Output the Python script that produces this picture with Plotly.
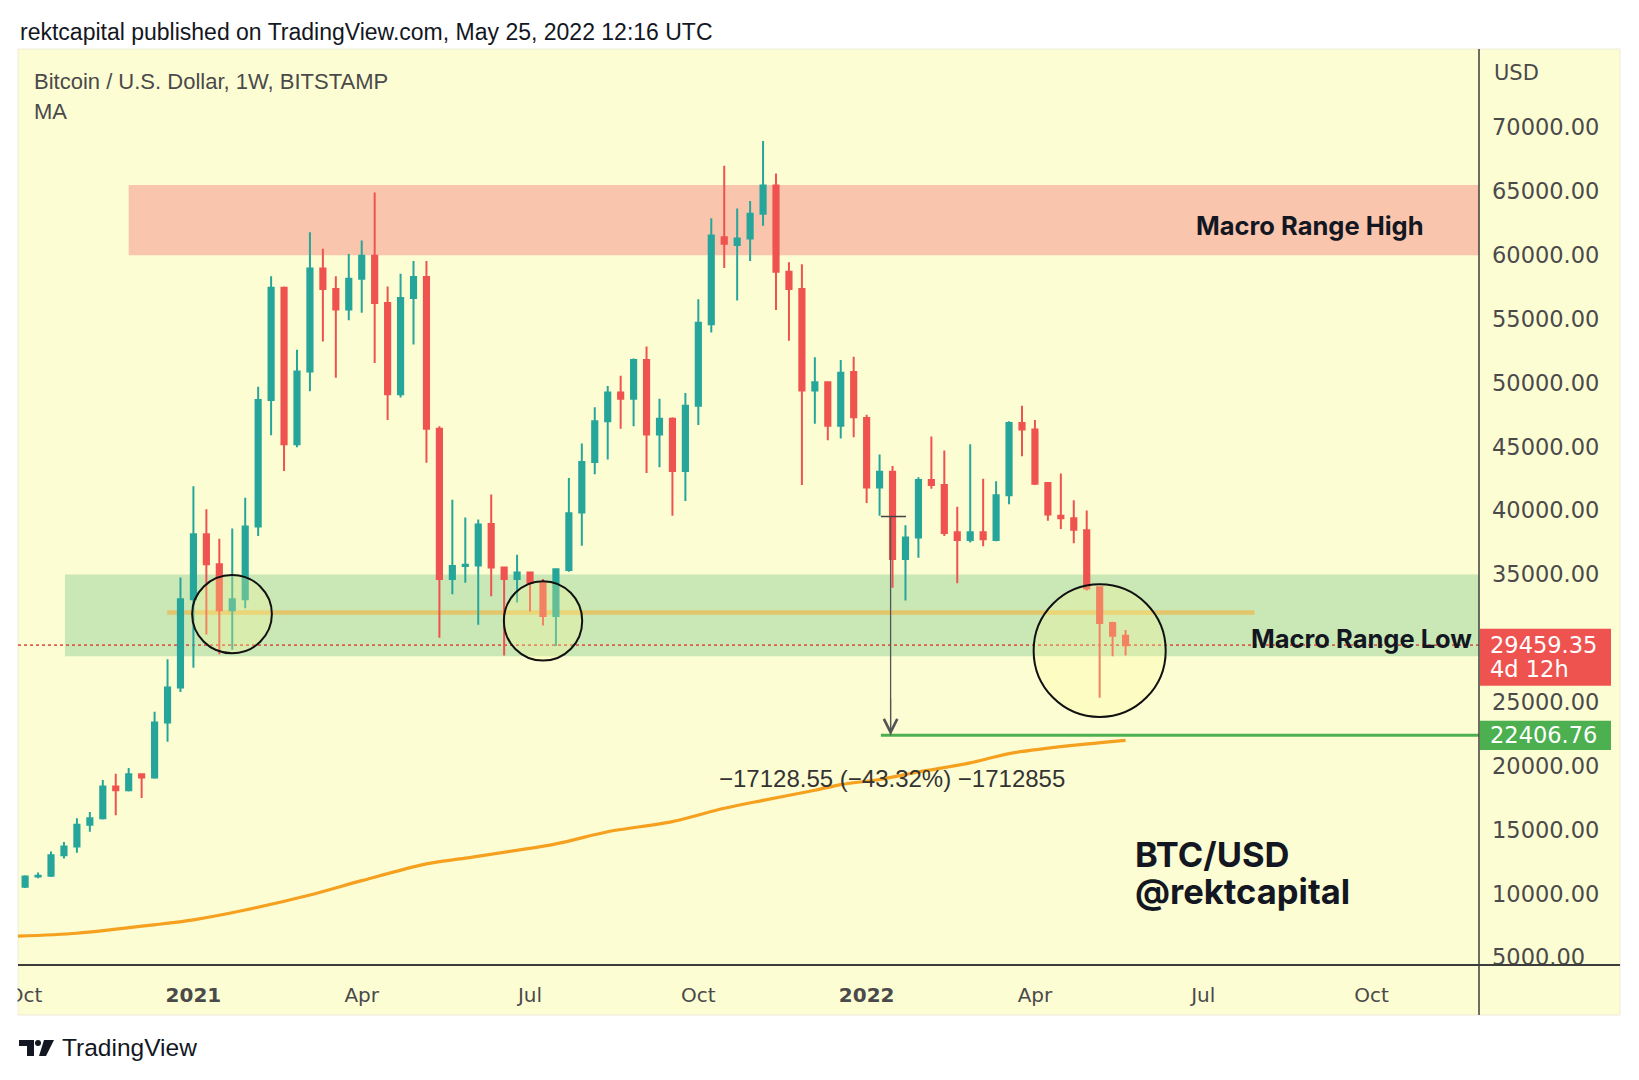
import plotly.graph_objects as go
import pandas as pd

# ---------------- data ----------------
dates = [
    "2020-10-05", "2020-10-12", "2020-10-19", "2020-10-26", "2020-11-02", "2020-11-09",
    "2020-11-16", "2020-11-23", "2020-11-30", "2020-12-07", "2020-12-14", "2020-12-21",
    "2020-12-28", "2021-01-04", "2021-01-11", "2021-01-18", "2021-01-25", "2021-02-01",
    "2021-02-08", "2021-02-15", "2021-02-22", "2021-03-01", "2021-03-08", "2021-03-15",
    "2021-03-22", "2021-03-29", "2021-04-05", "2021-04-12", "2021-04-19", "2021-04-26",
    "2021-05-03", "2021-05-10", "2021-05-17", "2021-05-24", "2021-05-31", "2021-06-07",
    "2021-06-14", "2021-06-21", "2021-06-28", "2021-07-05", "2021-07-12", "2021-07-19",
    "2021-07-26", "2021-08-02", "2021-08-09", "2021-08-16", "2021-08-23", "2021-08-30",
    "2021-09-06", "2021-09-13", "2021-09-20", "2021-09-27", "2021-10-04", "2021-10-11",
    "2021-10-18", "2021-10-25", "2021-11-01", "2021-11-08", "2021-11-15", "2021-11-22",
    "2021-11-29", "2021-12-06", "2021-12-13", "2021-12-20", "2021-12-27", "2022-01-03",
    "2022-01-10", "2022-01-17", "2022-01-24", "2022-01-31", "2022-02-07", "2022-02-14",
    "2022-02-21", "2022-02-28", "2022-03-07", "2022-03-14", "2022-03-21", "2022-03-28",
    "2022-04-04", "2022-04-11", "2022-04-18", "2022-04-25", "2022-05-02", "2022-05-09",
    "2022-05-16", "2022-05-23",
]
opens = [
    10550, 11350, 11400, 13000, 13700, 15400, 15900, 18400, 18100, 19350, 19100, 23400,
    26150, 33050, 38150, 35800, 32200, 33050, 38750, 48650, 57450, 45200, 50900, 58950,
    57350, 55750, 58150, 59950, 56250, 49100, 56650, 58300, 46400, 34650, 35650, 35700,
    38950, 35550, 34650, 35150, 34300, 31750, 35350, 39850, 43800, 47000, 49250, 48750,
    51800, 45950, 47200, 43100, 48200, 54600, 61400, 60800, 61300, 63250, 65450, 58700,
    57350, 49400, 50050, 46650, 50850, 47250, 41800, 43050, 36200, 37900, 42400, 42000,
    38300, 37700, 38300, 37700, 41200, 46850, 46350, 42150, 39600, 39400, 38450, 34000,
    31200, 30200,
]
highs = [
    11450, 11650, 13300, 14050, 15900, 16400, 18900, 19400, 19850, 19400, 24250, 28350,
    34750, 41900, 40100, 37800, 38600, 41000, 49700, 58350, 57550, 52600, 61800, 60500,
    58350, 60100, 61150, 64900, 57550, 58550, 59550, 59550, 46600, 40850, 39450, 39300,
    41250, 35600, 36550, 35200, 34650, 35400, 42550, 45250, 48100, 49750, 50550, 51900,
    52850, 48750, 47300, 49200, 56550, 62900, 67000, 63650, 64250, 68950, 66400, 59450,
    59300, 52000, 50100, 51800, 52050, 47500, 44400, 43500, 38850, 42600, 45800, 44700,
    40300, 45200, 42500, 42300, 47000, 48200, 47100, 42200, 42900, 40800, 40000, 34050,
    31300, 30650,
]
lows = [
    10450, 11200, 11300, 12750, 13200, 14850, 15800, 16150, 18000, 17500, 19000, 21900,
    25800, 27700, 30300, 28750, 29100, 32350, 38000, 45900, 43100, 44950, 49350, 53250,
    50400, 54900, 55500, 51550, 47100, 48850, 53000, 43750, 30050, 33450, 34350, 31050,
    33300, 28650, 32800, 32100, 31000, 29400, 35200, 37250, 42850, 44000, 46400, 46600,
    42950, 43400, 39600, 40750, 46700, 53950, 59000, 56450, 59550, 62300, 55700, 53300,
    42000, 46800, 45500, 45650, 45750, 40600, 39600, 33950, 32950, 36300, 41700, 38000,
    34300, 37500, 37200, 37600, 40500, 44250, 42000, 39200, 38550, 37450, 33750, 25350,
    28600, 28650,
]
closes = [
    11350, 11400, 13000, 13700, 15400, 15900, 18400, 18100, 19350, 19100, 23400, 26150,
    33050, 38150, 35800, 32200, 33050, 38750, 48650, 57450, 45200, 50900, 58950, 57350,
    55750, 58150, 59950, 56250, 49100, 56650, 58300, 46400, 34650, 35650, 35750, 38900,
    35550, 34650, 35150, 34350, 31750, 35400, 39800, 43800, 47000, 49250, 48750, 51800,
    45950, 47200, 43100, 48200, 54700, 61550, 60900, 61300, 63250, 65450, 58700, 57350,
    49400, 50050, 46650, 50800, 47300, 41800, 43050, 36200, 37900, 42400, 42000, 38250,
    37700, 38300, 37750, 41200, 46850, 46350, 42100, 39700, 39400, 38500, 33900, 31200,
    30200, 29459.35,
]

# 200-week moving average
ma_dates = [
    "2020-09-28", "2020-11-02", "2020-12-14", "2021-01-04", "2021-02-01", "2021-03-08",
    "2021-04-05", "2021-05-10", "2021-05-31", "2021-07-19", "2021-08-16", "2021-09-20",
    "2021-10-18", "2021-11-08", "2021-12-06", "2021-12-20", "2022-01-10", "2022-01-31",
    "2022-02-28", "2022-03-21", "2022-04-25", "2022-05-23",
]
ma_values = [
    6650, 6900, 7560, 7950, 8720, 9900, 11020, 12330, 12780, 13900, 14850, 15640,
    16690, 17310, 18100, 18540, 18940, 19530, 20240, 20970, 21620, 22010,
]

last_price = 29459.35
target_price = 22406.76
measure_top = 39535.31
macro_high = [60000, 65500]
macro_low = [28600, 35000]
mid_level = 32019

ytick_vals = [5000, 10000, 15000, 20000, 25000, 35000, 40000, 45000,
              50000, 55000, 60000, 65000, 70000]
ytick_text = ["5000.00", "10000.00", "15000.00", "20000.00", "25000.00", "35000.00",
              "40000.00", "45000.00", "50000.00", "55000.00", "60000.00",
              "65000.00", "70000.00"]
xtick_dates = ["2020-10-05", "2021-01-04", "2021-04-05", "2021-07-05", "2021-10-04",
               "2022-01-03", "2022-04-04", "2022-07-04", "2022-10-03"]
xtick_text = ["Oct", "<b>2021</b>", "Apr", "Jul", "Oct", "<b>2022</b>", "Apr", "Jul", "Oct"]

# ---------------- layout helpers ----------------
PAGE_OFF = 8                       # browser body margin
W, H = 1639 - PAGE_OFF, 1080 - PAGE_OFF
L, R, T, B = 18, 1479, 49, 965     # plot area in page pixels


def px(x):
    return (x - L) / (R - L)


def py(y):
    return (B - y) / (B - T)


base = pd.Timestamp("2020-10-05")


def wk(i):
    return base + pd.Timedelta(days=7 * i)


x_start, x_end = wk(-0.55), wk(112.3)
BG = "#FDFDD4"
TEAL, RED = "#26A69A", "#EF5350"
TXT = "#131722"

fig = go.Figure()
fig.add_trace(go.Candlestick(
    x=dates, open=opens, high=highs, low=lows, close=closes,
    increasing=dict(line=dict(color=TEAL, width=2), fillcolor=TEAL),
    decreasing=dict(line=dict(color=RED, width=2), fillcolor=RED),
    whiskerwidth=0, showlegend=False, hoverinfo="skip",
))
fig.add_trace(go.Scatter(
    x=ma_dates, y=ma_values, mode="lines",
    line=dict(color="#F5A01E", width=3.2, shape="spline", smoothing=0.8),
    showlegend=False, hoverinfo="skip",
))

shapes = []
# whole chart box (pale yellow)
shapes.append(dict(type="rect", xref="paper", yref="paper", x0=0, x1=px(1620),
                   y0=py(1015), y1=1, fillcolor=BG, line=dict(color="#ECECD8", width=1),
                   layer="below"))
# macro range high
shapes.append(dict(type="rect", xref="x", yref="y", x0=wk(8.0), x1=x_end,
                   y0=macro_high[0], y1=macro_high[1], fillcolor="#F9C5AD",
                   line=dict(width=0), layer="below"))
# macro range low
shapes.append(dict(type="rect", xref="x", yref="y", x0=wk(3.07), x1=x_end,
                   y0=macro_low[0], y1=macro_low[1], fillcolor="#CAE7B6",
                   line=dict(width=0), layer="below"))
# golden mid level
shapes.append(dict(type="line", xref="x", yref="y", x0=wk(10.97), x1=wk(94.96),
                   y0=mid_level, y1=mid_level,
                   line=dict(color="rgba(228,194,100,0.9)", width=4.5), layer="below"))
# dotted last price line
shapes.append(dict(type="line", xref="x", yref="y", x0=x_start, x1=x_end,
                   y0=last_price, y1=last_price,
                   line=dict(color="#D9604F", width=1.6, dash="dot"), layer="below"))
# green target level
shapes.append(dict(type="line", xref="x", yref="y", x0=wk(66.1), x1=x_end,
                   y0=target_price, y1=target_price,
                   line=dict(color="#4CAF50", width=3), layer="above"))
# measure top tick
shapes.append(dict(type="line", xref="x", yref="y", x0=wk(66.1), x1=wk(68.04),
                   y0=measure_top, y1=measure_top,
                   line=dict(color="#444444", width=1.5), layer="above"))
# measure vertical line
shapes.append(dict(type="line", xref="x", yref="y", x0=wk(66.85), x1=wk(66.85),
                   y0=measure_top, y1=target_price,
                   line=dict(color="#555555", width=1.3), layer="above"))
# circles
for (i0, i1, y0, y1) in [(12.9, 19.06, 28826, 34956), (36.98, 43.03, 28252, 34471),
                         (77.9, 88.1, 23836, 34229)]:
    shapes.append(dict(type="circle", xref="x", yref="y", x0=wk(i0), x1=wk(i1),
                       y0=y0, y1=y1, fillcolor="rgba(255,255,150,0.28)",
                       line=dict(color="#111111", width=2), layer="above"))
# axis frame lines
shapes.append(dict(type="line", xref="paper", yref="paper", x0=1, x1=1, y0=py(1015), y1=1,
                   line=dict(color="#3C3C3C", width=1.5), layer="above"))
shapes.append(dict(type="line", xref="paper", yref="paper", x0=0, x1=px(1620), y0=0, y1=0,
                   line=dict(color="#3C3C3C", width=1.8), layer="above"))
# clip the first time label at the chart's left edge (as in the screenshot)
shapes.append(dict(type="rect", xref="paper", yref="paper", x0=px(0), x1=px(17.5),
                   y0=py(1014), y1=py(967), fillcolor="white", line=dict(width=0),
                   layer="above"))
# price tags on axis
shapes.append(dict(type="rect", xref="paper", yref="y", x0=px(1480), x1=px(1611),
                   ysizemode="pixel", yanchor=last_price, y0=-40.5, y1=16.5,
                   fillcolor="#EF5350", line=dict(width=0), layer="above"))
shapes.append(dict(type="rect", xref="paper", yref="y", x0=px(1480), x1=px(1611),
                   ysizemode="pixel", yanchor=target_price, y0=-14.7, y1=14.5,
                   fillcolor="#4CAF50", line=dict(width=0), layer="above"))
# TradingView logo (simple glyph)
shapes.append(dict(type="path", xref="paper", yref="paper",
                   path=f"M {px(19)} {py(1040)} L {px(34)} {py(1040)} L {px(34)} {py(1056)} "
                        f"L {px(27)} {py(1056)} L {px(27)} {py(1046)} L {px(19)} {py(1046)} Z",
                   fillcolor=TXT, line=dict(width=0)))
shapes.append(dict(type="circle", xref="paper", yref="paper", x0=px(35), x1=px(41),
                   y0=py(1046), y1=py(1040), fillcolor=TXT, line=dict(width=0)))
shapes.append(dict(type="path", xref="paper", yref="paper",
                   path=f"M {px(44)} {py(1040)} L {px(54)} {py(1040)} L {px(46)} {py(1056)} "
                        f"L {px(39)} {py(1056)} Z",
                   fillcolor=TXT, line=dict(width=0)))

ann = []
ann.append(dict(text="rektcapital published on TradingView.com, May 25, 2022 12:16 UTC",
                xref="paper", yref="paper", x=px(18), y=py(32), xanchor="left",
                yanchor="middle", showarrow=False,
                font=dict(family="Liberation Sans, Arial", size=23, color=TXT)))
ann.append(dict(text="Bitcoin / U.S. Dollar, 1W, BITSTAMP", xref="paper", yref="paper",
                x=px(32), y=py(81.5), xanchor="left", yanchor="middle", showarrow=False,
                font=dict(family="Liberation Sans, Arial", size=22, color="#4A4A4A")))
ann.append(dict(text="MA", xref="paper", yref="paper", x=px(32), y=py(112),
                xanchor="left", yanchor="middle", showarrow=False,
                font=dict(family="Liberation Sans, Arial", size=22, color="#4A4A4A")))
ann.append(dict(text="USD", xref="paper", yref="paper", x=px(1492), y=py(73),
                xanchor="left", yanchor="middle", showarrow=False,
                font=dict(family="DejaVu Sans", size=21, color="#4A4A4A")))
ann.append(dict(text="Macro Range High", xref="paper", yref="paper", x=px(1310), y=py(225),
                xanchor="center", yanchor="middle", showarrow=False,
                font=dict(family="Inter", size=25.5, color=TXT, weight="bold")))
ann.append(dict(text="Macro Range Low", xref="paper", yref="paper", x=px(1249), y=py(638),
                xanchor="left", yanchor="middle", showarrow=False,
                font=dict(family="Inter", size=25.5, color=TXT, weight="bold")))
ann.append(dict(text="BTC/USD", xref="paper", yref="paper", x=px(1133),
                y=py(854), xanchor="left", yanchor="middle", showarrow=False,
                font=dict(family="Inter", size=34.5, color=TXT, weight="bold")))
ann.append(dict(text="@rektcapital", xref="paper", yref="paper", x=px(1133),
                y=py(891), xanchor="left", yanchor="middle", showarrow=False,
                font=dict(family="Inter", size=34.5, color=TXT, weight="bold")))
ann.append(dict(text="\u221217128.55 (\u221243.32%) \u22121712855", xref="paper",
                yref="paper", x=px(892), y=py(778), xanchor="center", yanchor="middle",
                showarrow=False,
                font=dict(family="Liberation Sans, Arial", size=24, color="#333333")))
# arrow head of the measure
ann.append(dict(x=wk(66.85), y=target_price, ax=wk(66.85), ay=target_price + 3000,
                xref="x", yref="y", axref="x", ayref="y", text="", showarrow=True,
                arrowhead=5, arrowsize=2.2, arrowwidth=1.2, arrowcolor="#555555"))
# price tag texts
tag_font = dict(family="DejaVu Sans", size=22.5, color="white")
ann.append(dict(text=f"{last_price:.2f}", xref="paper", yref="y", x=px(1488), y=last_price,
                xanchor="left", yanchor="middle", showarrow=False, font=tag_font))
ann.append(dict(text="4d 12h", xref="paper", yref="y", x=px(1488), y=last_price, yshift=-24,
                xanchor="left", yanchor="middle", showarrow=False, font=tag_font))
ann.append(dict(text=f"{target_price:.2f}", xref="paper", yref="y", x=px(1488),
                y=target_price, xanchor="left", yanchor="middle", showarrow=False,
                font=tag_font))
ann.append(dict(text="TradingView", xref="paper", yref="paper", x=px(60), y=py(1047),
                xanchor="left", yanchor="middle", showarrow=False,
                font=dict(family="Liberation Sans, Arial", size=24.5, color=TXT)))

fig.update_layout(
    width=W, height=H,
    margin=dict(l=L - PAGE_OFF, r=W - (R - PAGE_OFF), t=T - PAGE_OFF, b=H - (B - PAGE_OFF),
                autoexpand=False),
    paper_bgcolor="white", plot_bgcolor=BG,
    showlegend=False, boxgap=0.43,
    shapes=shapes, annotations=ann,
    xaxis=dict(type="date", range=[x_start, x_end], showgrid=False, zeroline=False,
               rangeslider=dict(visible=False), tickmode="array",
               tickvals=xtick_dates, ticktext=xtick_text, ticks="",
               ticklabelstandoff=16, ticklabeloverflow="allow", automargin=False,
               tickfont=dict(family="DejaVu Sans", size=20, color="#4A4A4A"),
               showline=False, fixedrange=True),
    yaxis=dict(side="right", range=[4413, 76147], showgrid=False, zeroline=False,
               tickmode="array", tickvals=ytick_vals, ticktext=ytick_text, ticks="",
               ticklabelstandoff=12, automargin=False,
               tickfont=dict(family="DejaVu Sans", size=22.5, color="#4A4A4A"),
               showline=False, fixedrange=True),
)

fig.write_html("out.html")
